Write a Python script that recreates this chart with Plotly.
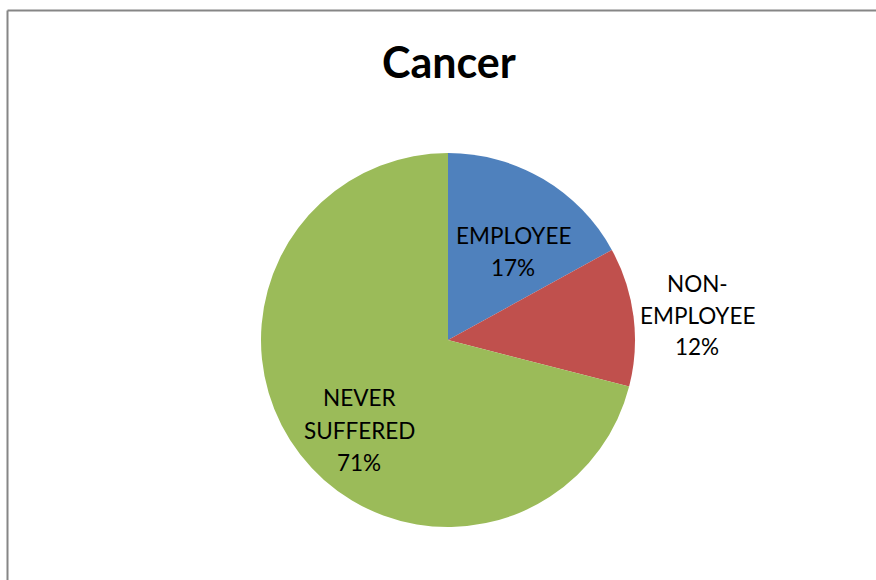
import plotly.graph_objects as go

# Cancer survey: share of respondents by group
categories = ["EMPLOYEE", "NON-EMPLOYEE", "NEVER SUFFERED"]
label_lines = [["EMPLOYEE"], ["NON-", "EMPLOYEE"], ["NEVER", "SUFFERED"]]
percentages = [17, 12, 71]
colors = ["#4F81BD", "#C0504D", "#9BBB59"]

W, H = 876, 580
cx, cy, r = 448, 340, 187  # pie centre and radius in pixels

fig = go.Figure(
    go.Pie(
        labels=categories,
        values=percentages,
        sort=False,
        direction="clockwise",
        rotation=0,
        marker=dict(colors=colors, line=dict(width=0)),
        textinfo="none",
        hoverinfo="label+percent",
        showlegend=False,
        domain=dict(
            x=[(cx - r) / W, (cx + r) / W],
            y=[(H - cy - r) / H, (H - cy + r) / H],
        ),
    )
)

# label block centres (pixels) and line spacing
label_pos = [(513, 251), (697, 315), (359, 430)]
line_gap = 32
font = "Lato, 'Open Sans', sans-serif"

annotations = []
for lines, pct, (lx, ly) in zip(label_lines, percentages, label_pos):
    all_lines = lines + [f"{pct}%"]
    n = len(all_lines)
    for i, txt in enumerate(all_lines):
        y_px = ly + (i - (n - 1) / 2) * line_gap
        annotations.append(
            dict(
                text=txt,
                x=lx / W,
                y=(H - y_px) / H,
                xref="paper",
                yref="paper",
                xanchor="center",
                yanchor="middle",
                showarrow=False,
                font=dict(family=font, size=22.5, color="#000000"),
            )
        )

annotations.append(
    dict(
        text="<b>Cancer</b>",
        x=448.5 / W,
        y=(H - 62) / H,
        xref="paper",
        yref="paper",
        xanchor="center",
        yanchor="middle",
        showarrow=False,
        font=dict(family=font, size=43, color="#000000"),
    )
)

# chart frame: left and top edges only fall inside the page
fig.update_layout(
    width=W,
    height=H,
    margin=dict(l=0, r=0, t=0, b=0),
    paper_bgcolor="#FFFFFF",
    plot_bgcolor="#FFFFFF",
    annotations=annotations,
    shapes=[
        dict(
            type="line",
            xref="paper",
            yref="paper",
            x0=7.5 / W,
            x1=7.5 / W,
            y0=-0.1,
            y1=(H - 10.5) / H,
            line=dict(color="#868686", width=2),
        ),
        dict(
            type="line",
            xref="paper",
            yref="paper",
            x0=7.5 / W,
            x1=1.1,
            y0=(H - 10.5) / H,
            y1=(H - 10.5) / H,
            line=dict(color="#868686", width=2),
        ),
    ],
)

fig.write_html("out.html")
